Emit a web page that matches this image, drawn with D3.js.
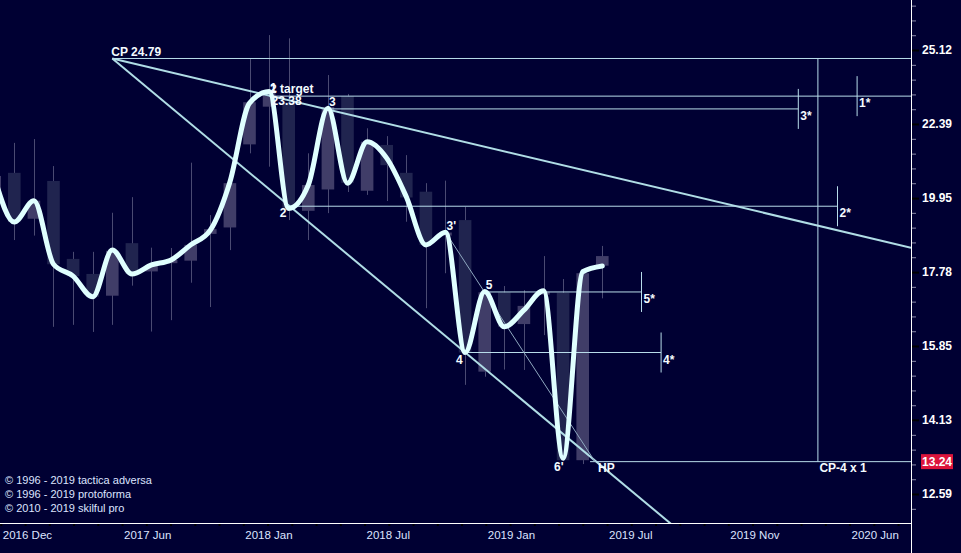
<!DOCTYPE html>
<html>
<head>
<script src="https://d3js.org/d3.v7.min.js"></script>
<style>
  body { margin: 0; background: #000033; }
  svg { display: block; }
  text { font-family: "Liberation Sans", Arial, sans-serif; }
  .note { font-size: 12px; font-weight: bold; fill: #f4fbff; }
</style>
</head>
<body>
<svg id="chart" width="961" height="553"></svg>
<script>
// monthly candles, Nov 2016 .. Jun 2019
const months = ["2016-11","2016-12","2017-01","2017-02","2017-03","2017-04","2017-05","2017-06",
  "2017-07","2017-08","2017-09","2017-10","2017-11","2017-12","2018-01","2018-02","2018-03",
  "2018-04","2018-05","2018-06","2018-07","2018-08","2018-09","2018-10","2018-11","2018-12",
  "2019-01","2019-02","2019-03","2019-04","2019-05","2019-06"];
const opens  = [20.20,20.75,19.32,20.49,18.15,17.73,17.14,18.60,17.80,18.03,18.10,18.87,19.06,21.69,23.00,23.16,
                19.56,20.22,23.38,20.18,21.67,20.75,20.15,18.82,19.28,15.23,17.23,16.40,17.17,17.22,13.27,17.96];
const highs  = [20.78,21.74,21.87,20.97,18.35,18.35,19.50,19.98,18.47,18.46,21.08,19.43,20.78,24.80,25.71,25.58,
                21.39,24.16,23.46,22.24,21.97,21.33,20.42,20.50,19.68,17.27,17.40,17.29,18.23,17.59,17.84,18.52];
const lows   = [20.14,18.69,18.82,16.33,16.38,16.20,16.38,17.41,16.21,16.50,17.49,16.84,18.40,21.39,20.95,19.28,
                18.69,19.49,20.14,20.05,19.86,19.23,16.81,17.75,14.92,15.11,15.28,15.27,16.12,13.25,13.19,17.07];
const closes = [20.65,19.22,19.87,18.00,17.67,17.11,18.38,17.73,17.98,18.12,18.55,19.01,20.42,23.16,23.60,19.58,
                20.36,22.99,20.43,21.78,21.00,19.97,18.55,18.91,15.69,17.23,16.33,16.87,17.25,13.27,17.75,18.23];
// smoothed wave line
const wave   = [20.58,19.22,19.87,18.00,17.67,17.11,18.40,17.73,17.98,18.12,18.55,18.98,20.46,23.13,23.55,19.63,
                20.36,22.94,20.42,21.78,21.23,19.99,18.55,18.92,15.69,17.25,16.33,16.76,17.27,13.31,17.79,17.95];

const yTicks = [25.12, 22.39, 19.95, 17.78, 15.85, 14.13, 12.59];
const xTickLabels = ["2016 Dec","2017 Jun","2018 Jan","2018 Jul","2019 Jan","2019 Jul","2019 Nov","2020 Jun"];

// construction points (bar index, price)
const cpIndex = 6, cpPrice = 24.79;
const hpIndex = 30.63, hpPrice = 13.24;
const projIndex = 42;
const fanEnds = [[46.75, 18.47], [34.5, 12.02]];
const levelNames  = ["1*", "3*", "2*", "5*", "4*"];
const levelPrices = [23.38, 22.92, 19.70, 17.24, 15.69];
const levelStarts = [14, 17, 15, 25, 24];
const levelEnds   = [46.75, 41, 43, 33, 34];
const levelMarks  = [44, 41, 43, 33, 34];
const waveLabels   = ["2", "3", "3'", "4", "5", "6'"];
const waveLabelIdx = [15, 17, 23, 24, 25, 29];
const waveLabelOff = [[-9, 8], [1, -2], [1, -2], [-9, 11], [1, -3], [-9, 13]];
const copyrights = ["\u00a9 1996 - 2019 tactica adversa", "\u00a9 1996 - 2019 protoforma", "\u00a9 2010 - 2019 skilful pro"];

const W = 911, H = 523;
const svg = d3.select("#chart");

const x = d3.scaleLinear().domain([0, months.length - 1]).range([-5.3, 602.3]);
const y = d3.scaleLog().domain([12.59, 25.12]).range([494, 50]);
const slot = d3.scaleLinear().domain([0, 37]).range([0.8, 0.8 + 37 * 24.25]);
const edge = x.invert(W);

svg.append("rect").attr("width", 961).attr("height", 553).attr("fill", "#000033");

svg.append("clipPath").attr("id", "plot")
  .append("rect").attr("width", W).attr("height", H);

const g = svg.append("g").attr("clip-path", "url(#plot)");

// candles
const bw = 12.6;
g.selectAll(".wick").data(months).enter().append("line")
  .attr("x1", (d, i) => Math.round(x(i)) + 0.5)
  .attr("x2", (d, i) => Math.round(x(i)) + 0.5)
  .attr("y1", (d, i) => y(highs[i]))
  .attr("y2", (d, i) => y(lows[i]))
  .attr("stroke", "#4a4a72").attr("stroke-width", 1);

g.selectAll(".body").data(months).enter().append("rect")
  .attr("x", (d, i) => x(i) - bw / 2)
  .attr("width", bw)
  .attr("y", (d, i) => y(Math.max(opens[i], closes[i])))
  .attr("height", (d, i) => Math.max(2, y(Math.min(opens[i], closes[i])) - y(Math.max(opens[i], closes[i]))))
  .attr("fill", (d, i) => closes[i] >= opens[i] ? "#403d68" : "#20244f");

// fan lines out of CP
fanEnds.forEach(e => {
  g.append("line")
    .attr("x1", x(cpIndex)).attr("y1", y(cpPrice))
    .attr("x2", x(e[0])).attr("y2", y(e[1]))
    .attr("stroke", "#b0dde6").attr("stroke-width", 2);
});

// horizontal levels
const lvl = "#b8dcea";
g.append("line").attr("x1", x(cpIndex)).attr("x2", W)
  .attr("y1", y(cpPrice)).attr("y2", y(cpPrice)).attr("stroke", lvl);
g.append("line").attr("x1", x(hpIndex) - 5).attr("x2", W)
  .attr("y1", y(hpPrice)).attr("y2", y(hpPrice)).attr("stroke", lvl);
g.append("line").attr("x1", x(projIndex)).attr("x2", x(projIndex))
  .attr("y1", y(cpPrice)).attr("y2", y(hpPrice)).attr("stroke", lvl);

levelNames.forEach((n, i) => {
  const yy = y(levelPrices[i]);
  g.append("line").attr("x1", x(levelStarts[i])).attr("x2", x(Math.min(levelEnds[i], edge)))
    .attr("y1", yy).attr("y2", yy).attr("stroke", lvl);
  g.append("line").attr("x1", x(levelMarks[i])).attr("x2", x(levelMarks[i]))
    .attr("y1", yy - 20).attr("y2", yy + 20).attr("stroke", lvl);
  g.append("text").attr("class", "note")
    .attr("x", x(levelMarks[i]) + 2).attr("y", yy + 11).text(n);
});

// thin line 3' -> HP
g.append("line")
  .attr("x1", x(waveLabelIdx[2])).attr("y1", y(wave[waveLabelIdx[2]]))
  .attr("x2", x(hpIndex)).attr("y2", y(hpPrice))
  .attr("stroke", "#8fa8c0").attr("stroke-width", 1);

// wave
g.append("path").datum(wave)
  .attr("d", d3.line().x((d, i) => x(i)).y(d => y(d)).curve(d3.curveMonotoneX))
  .attr("fill", "none").attr("stroke", "#e0ffff")
  .attr("stroke-width", 5).attr("stroke-linecap", "round").attr("stroke-linejoin", "round");

// labels
g.append("text").attr("class", "note").attr("x", x(cpIndex) - 1).attr("y", y(cpPrice) - 2)
  .text("CP " + cpPrice);
const ty = y(levelPrices[0]);
g.append("text").attr("class", "note").attr("x", x(levelStarts[0]) + 1).attr("y", ty - 3).text("2 target");
g.append("text").attr("class", "note").attr("x", x(levelStarts[0]) + 1).attr("y", ty - 4).text("1");
g.append("text").attr("class", "note").attr("x", x(levelStarts[0]) + 2.5).attr("y", ty + 9)
  .text(levelPrices[0].toFixed(2));
waveLabels.forEach((t, k) => {
  g.append("text").attr("class", "note")
    .attr("x", x(waveLabelIdx[k]) + waveLabelOff[k][0])
    .attr("y", y(wave[waveLabelIdx[k]]) + waveLabelOff[k][1]).text(t);
});
g.append("text").attr("class", "note").attr("x", x(hpIndex) + 3).attr("y", y(hpPrice) + 10).text("HP");
g.append("text").attr("class", "note").attr("x", x(projIndex) + 1.5).attr("y", y(hpPrice) + 10).text("CP-4 x 1");

// copyright
copyrights.forEach((t, i) => {
  svg.append("text").attr("x", 5).attr("y", 484 + i * 14)
    .attr("font-size", "11px").attr("fill", "#dde4ff").text(t);
});

// right axis
const minor = d3.range(109, 144).map(k => Math.pow(10, k / 100));
const ra = svg.append("g").attr("transform", `translate(${W},0)`)
  .call(d3.axisRight(y).tickValues(minor).tickSize(5).tickFormat(""));
ra.select(".domain").remove();
ra.selectAll("line").attr("stroke", "#8a8aa8");

const rb = svg.append("g").attr("transform", `translate(${W},0)`)
  .call(d3.axisRight(y).tickValues(yTicks).tickSize(8).tickPadding(3).tickFormat(d3.format(".2f")));
rb.select(".domain").remove();
rb.selectAll("line").attr("stroke", "#000").attr("stroke-width", 2);
rb.selectAll("text").attr("fill", "#fff").attr("font-size", "12px").attr("font-weight", "bold")
  .attr("font-family", "Liberation Sans, Arial, sans-serif");

// current price tag
svg.append("rect").attr("x", W + 10).attr("y", y(hpPrice) - 7.5).attr("width", 32).attr("height", 15)
  .attr("fill", "#dc143c");
svg.append("text").attr("x", W + 11).attr("y", y(hpPrice) + 4.5)
  .attr("font-size", "12px").attr("font-weight", "bold").attr("fill", "#fff").text(hpPrice.toFixed(2));

// bottom axis
const ba = svg.append("g").attr("transform", `translate(0,${H})`)
  .call(d3.axisBottom(slot).tickValues(d3.range(0, 38)).tickSize(3)
    .tickFormat(k => k % 5 ? "" : xTickLabels[k / 5]));
ba.select(".domain").remove();
ba.selectAll("line").attr("stroke", "#000").attr("stroke-width", 2);
ba.selectAll("text").attr("text-anchor", "start").attr("x", 1.5).attr("y", 8)
  .attr("fill", "#dde4ff").attr("font-size", "11.5px")
  .attr("font-family", "Liberation Sans, Arial, sans-serif");

// frame lines
svg.append("line").attr("x1", 0).attr("x2", W).attr("y1", H + 0.5).attr("y2", H + 0.5)
  .attr("stroke", "#fff");
svg.append("line").attr("x1", W + 0.5).attr("x2", W + 0.5).attr("y1", 0).attr("y2", 553)
  .attr("stroke", "#fff");
</script>
</body>
</html>
